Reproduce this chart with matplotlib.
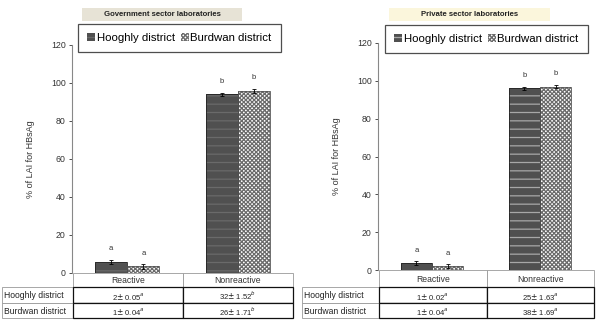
import matplotlib
matplotlib.use('Agg')
import matplotlib.pyplot as plt
from matplotlib.patches import Rectangle

plt.rcParams['font.family'] = ['Liberation Sans', 'DejaVu Sans']
plt.rcParams['hatch.linewidth'] = 0.9

# data
categories = ['Reactive', 'Nonreactive']
districts = ['Hooghly district', 'Burdwan district']

gov_title = 'Government sector laboratories'
gov_hooghly = [6, 94]
gov_burdwan = [3.5, 96]
gov_hooghly_err = [1.0, 0.8]
gov_burdwan_err = [1.5, 1.0]
gov_letters_h = ['a', 'b']
gov_letters_b = ['a', 'b']
gov_table = [[r'2$\pm$ 0.05$^{a}$', r'32$\pm$ 1.52$^{b}$'],
             [r'1$\pm$ 0.04$^{a}$', r'26$\pm$ 1.71$^{b}$']]

priv_title = 'Private sector laboratories'
priv_hooghly = [3.7, 96]
priv_burdwan = [2, 97]
priv_hooghly_err = [1.2, 0.8]
priv_burdwan_err = [1.0, 0.8]
priv_letters_h = ['a', 'b']
priv_letters_b = ['a', 'b']
priv_table = [[r'1$\pm$ 0.02$^{a}$', r'25$\pm$ 1.63$^{a}$'],
              [r'1$\pm$ 0.04$^{a}$', r'38$\pm$ 1.69$^{a}$']]

W, H = 596, 320
fig = plt.figure(figsize=(W / 100, H / 100), dpi=100)

# overlay in pixel coords for title boxes and tables
ov = fig.add_axes([0, 0, 1, 1], zorder=5)
ov.set_xlim(0, W)
ov.set_ylim(H, 0)
ov.axis('off')
ov.patch.set_alpha(0)


def panel(x0, x1, y_top, y_zero, title, tbox, tcolor, hv, bv, he, be, lh, lb,
          table, stripe, lab_x0, lab_x1, row_y, leg_pos):
    ax = fig.add_axes([x0 / W, 1 - y_zero / H, (x1 - x0) / W, (y_zero - y_top) / H])
    ax.set_xlim(0, 2)
    ax.set_ylim(0, 120)
    xs = [0.5, 1.5]
    w = 0.29
    xh = [x - w / 2 for x in xs]
    xb = [x + w / 2 for x in xs]
    # Hooghly bars: dark with horizontal stripes
    hb = ax.bar(xh, hv, w, color='#505050', edgecolor=stripe, hatch='--', linewidth=0, zorder=2)
    ax.bar(xh, hv, w, fill=False, edgecolor='#222222', linewidth=0.6, zorder=3)
    # Burdwan bars: checker pattern
    bb = ax.bar(xb, bv, w, color='white', edgecolor='#6a6a6a', hatch='xxxxxxxx', linewidth=0, zorder=2)
    ax.bar(xb, bv, w, fill=False, edgecolor='#555555', linewidth=0.6, zorder=3)
    ax.errorbar(xh, hv, yerr=he, fmt='none', ecolor='black', elinewidth=0.6, capsize=1.5, capthick=0.6, zorder=4)
    ax.errorbar(xb, bv, yerr=be, fmt='none', ecolor='black', elinewidth=0.6, capsize=1.5, capthick=0.6, zorder=4)
    for x, v, t in zip(xh, hv, lh):
        ax.text(x, v + 5, t, ha='center', va='bottom', fontsize=5.5, color='#333333')
    for x, v, t in zip(xb, bv, lb):
        ax.text(x, v + 5, t, ha='center', va='bottom', fontsize=5.5, color='#333333')

    for s in ['top', 'right', 'bottom']:
        ax.spines[s].set_visible(False)
    ax.spines['left'].set_color('#888888')
    ax.spines['left'].set_linewidth(0.8)
    ax.set_yticks(range(0, 121, 20))
    ax.tick_params(axis='y', labelsize=6.3, colors='#333333', length=2.5, width=0.6, pad=2)
    ax.tick_params(axis='x', bottom=False, labelbottom=False)
    ax.set_ylabel('% of LAI for HBsAg', fontsize=6.5, color='#333333')
    ax.yaxis.set_label_coords(-37 / (x1 - x0), 0.5)
    ax.patch.set_alpha(0)

    leg = ax.legend([hb, bb], districts, loc='upper left', bbox_to_anchor=leg_pos,
                    bbox_transform=fig.transFigure, ncol=2, fontsize=8.2,
                    frameon=True, fancybox=False, borderaxespad=0,
                    handlelength=0.7, handleheight=0.7, handletextpad=0.15,
                    columnspacing=0.5, borderpad=0.8)
    leg.get_frame().set_edgecolor('#222222')
    leg.get_frame().set_linewidth(0.9)

    # title box
    bx0, bx1, by0, by1 = tbox
    ov.add_patch(Rectangle((bx0, by0), bx1 - bx0, by1 - by0, facecolor=tcolor, edgecolor='none'))
    ov.text((bx0 + bx1) / 2, (by0 + by1) / 2 + 0.5, title, ha='center', va='center',
            fontsize=5.6, fontweight='bold', color='#222222')

    # table
    cx = [lab_x1, (lab_x1 + x1) / 2, x1]
    r0, r1, r2, r3 = row_y
    for i, cat in enumerate(categories):
        ov.add_patch(Rectangle((cx[i], r0), cx[i + 1] - cx[i], r1 - r0, facecolor='white',
                               edgecolor='#999999', linewidth=0.6))
        ov.text((cx[i] + cx[i + 1]) / 2, (r0 + r1) / 2 + 0.5, cat, ha='center', va='center',
                fontsize=6.2, color='#333333')
    rows = [(r1, r2), (r2, r3)]
    for j, (ya, yb) in enumerate(rows):
        ov.add_patch(Rectangle((lab_x0, ya), lab_x1 - lab_x0, yb - ya, facecolor='white',
                               edgecolor='#999999', linewidth=0.6))
        ov.text(lab_x0 + 2, (ya + yb) / 2 + 0.5, districts[j], ha='left', va='center',
                fontsize=6.2, color='#222222')
        for i in range(2):
            ov.add_patch(Rectangle((cx[i], ya), cx[i + 1] - cx[i], yb - ya, facecolor='white',
                                   edgecolor='#111111', linewidth=0.9))
            ov.text((cx[i] + cx[i + 1]) / 2, (ya + yb) / 2 + 1, table[j][i], ha='center',
                    va='center', fontsize=5.5, color='#222222')
    return ax


panel(72, 293, 45, 273, gov_title, (82, 242, 8, 21), '#e7e3d6',
      gov_hooghly, gov_burdwan, gov_hooghly_err, gov_burdwan_err,
      gov_letters_h, gov_letters_b, gov_table, '#6a6a6a',
      2, 73, (273, 287, 303, 318), (78 / W, 1 - 24 / H))

panel(378, 594, 43, 270, priv_title, (389, 550, 8, 21), '#fbf6dc',
      priv_hooghly, priv_burdwan, priv_hooghly_err, priv_burdwan_err,
      priv_letters_h, priv_letters_b, priv_table, '#a8a8a8',
      302, 379, (270, 287, 303, 318), (385 / W, 1 - 25 / H))

fig.savefig('out.png', dpi=100, facecolor='white')
